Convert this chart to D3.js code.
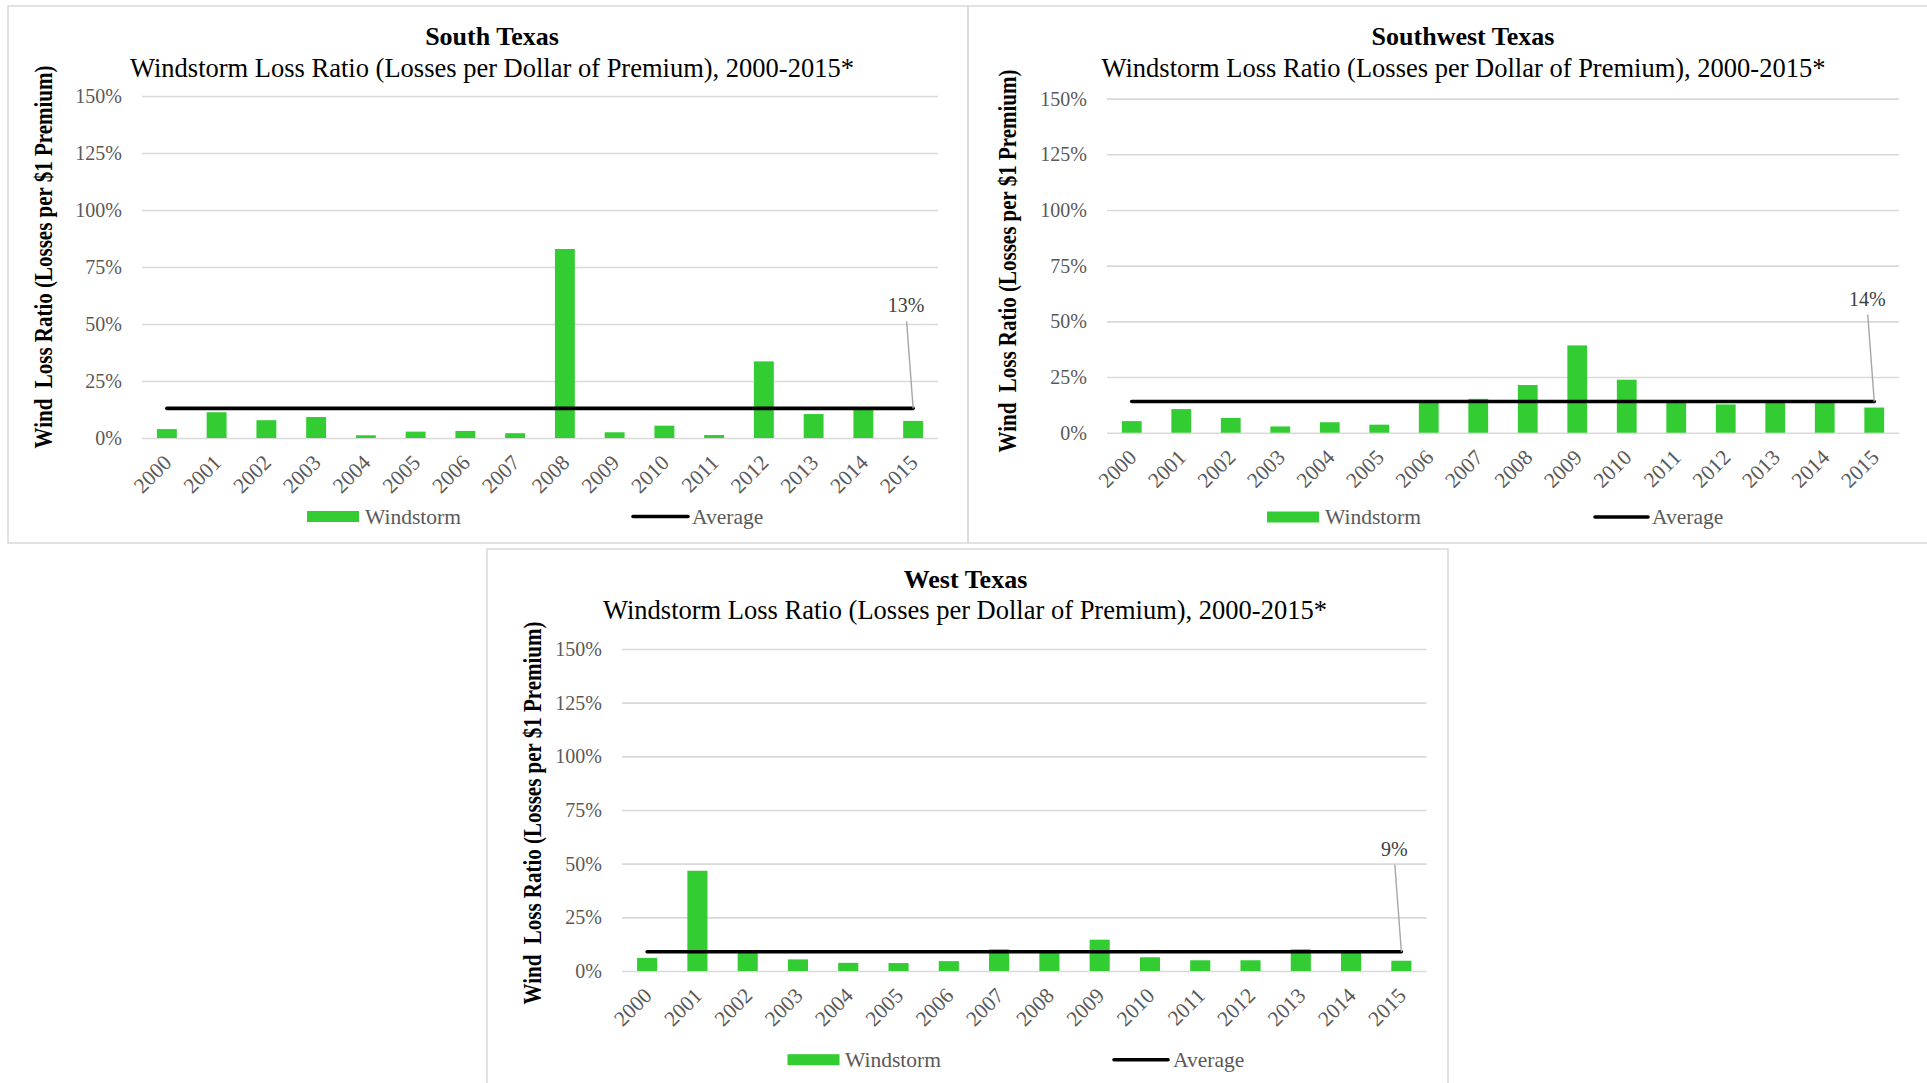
<!DOCTYPE html>
<html><head><meta charset="utf-8">
<script src="https://cdn.jsdelivr.net/npm/d3@7"></script>
<style>
html,body{margin:0;padding:0;background:#fff;overflow:hidden}
svg{display:block}
text{font-family:"Times New Roman","Liberation Serif",serif}
</style></head><body>
<svg id="chart" width="1927" height="1083"></svg>
<script>
// ---------- data ----------
const years = ["2000","2001","2002","2003","2004","2005","2006","2007","2008","2009","2010","2011","2012","2013","2014","2015"];
const southWindstorm     = [3.9, 11.3, 7.8, 9.2, 1.2, 2.8, 3.1, 2.1, 82.9, 2.5, 5.4, 1.3, 33.6, 10.5, 13.2, 7.5];
const southwestWindstorm = [5.2, 10.6, 6.6, 2.8, 4.7, 3.6, 14.3, 15.2, 21.4, 39.2, 23.8, 14.3, 12.7, 14.3, 14.3, 11.3];
const westWindstorm      = [6.1, 46.7, 9.1, 5.4, 3.8, 3.7, 4.6, 10.1, 8.9, 14.6, 6.4, 5.0, 5.0, 10.1, 9.1, 4.8];
const averageValues = [13, 14, 9];
const averageLabels = ["13%", "14%", "9%"];
const regionTitles = ["South Texas", "Southwest Texas", "West Texas"];
const subtitleText = "Windstorm Loss Ratio (Losses per Dollar of Premium), 2000-2015*";
const yTickValues = [0, 25, 50, 75, 100, 125, 150];
const yAxisTitle = "Wind  Loss Ratio (Losses per $1 Premium)";
const legendLabels = ["Windstorm", "Average"];

const seriesByPanel = [southWindstorm, southwestWindstorm, westWindstorm];

// ---------- layout ----------
const layouts = [
  {box:[8,6,960,537], plot:{left:142,right:938,top:96,bottom:438}, title:[492,45], sub:[492,76.5], ylab:[44,257],
   legend:{rect:307,text:365,line:633,lineEnd:688,ltext:692,y:516.5}},
  {box:[968,6,990,537], plot:{left:1107,right:1899,top:98.6,bottom:432.7}, title:[1463,45], sub:[1463.5,76.5], ylab:[1008,261],
   legend:{rect:1267,text:1325,line:1595,lineEnd:1648,ltext:1652,y:517}},
  {box:[487,549,961,560], plot:{left:622,right:1426.5,top:649,bottom:971}, title:[965.5,588], sub:[965,619], ylab:[533,813],
   legend:{rect:787.5,text:845,line:1114,lineEnd:1168,ltext:1173,y:1059.7}}
];

const GREEN = "#33cc33", GRID = "#d9d9d9", GRAYTXT = "#595959";
const svg = d3.select("#chart");

layouts.forEach((L, i) => {
  const g = svg.append("g");
  const values = seriesByPanel[i];
  const data = years.map((y, k) => ({year: y, value: values[k]}));

  // panel border
  g.append("rect").attr("x", L.box[0]).attr("y", L.box[1]).attr("width", L.box[2]).attr("height", L.box[3])
    .attr("fill", "none").attr("stroke", GRID).attr("stroke-width", 1.5);

  const x = d3.scaleBand().domain(years).range([L.plot.left, L.plot.right]).paddingInner(0.6).paddingOuter(0.3);
  const y = d3.scaleLinear().domain([0, 150]).range([L.plot.bottom, L.plot.top]);

  // gridlines + y tick labels
  const yAxis = g.append("g").attr("transform", `translate(${L.plot.left},0)`)
    .call(d3.axisLeft(y).tickValues(yTickValues).tickFormat(d => d + "%")
      .tickSize(-(L.plot.right - L.plot.left)).tickPadding(20));
  yAxis.select(".domain").remove();
  yAxis.selectAll(".tick line").attr("stroke", GRID).attr("stroke-width", 1.6);
  yAxis.selectAll(".tick text").attr("fill", GRAYTXT).style("font-size", "20px")
    .style("font-family", '"Times New Roman","Liberation Serif",serif');

  // x axis labels
  const xAxis = g.append("g").attr("transform", `translate(0,${L.plot.bottom})`)
    .call(d3.axisBottom(x).tickSize(0).tickPadding(0));
  xAxis.select(".domain").remove();
  xAxis.selectAll(".tick text")
    .attr("fill", GRAYTXT).style("font-size", "21.5px")
    .style("font-family", '"Times New Roman","Liberation Serif",serif')
    .attr("text-anchor", "end").attr("dy", null).attr("y", null)
    .attr("transform", "translate(6,26) rotate(-45)");

  // bars
  g.append("g").selectAll("rect").data(data).join("rect")
    .attr("x", d => x(d.year)).attr("width", x.bandwidth())
    .attr("y", d => y(d.value)).attr("height", d => y(0) - y(d.value))
    .attr("fill", GREEN);

  // average line
  const avg = averageValues[i];
  const avgData = years.map(yr => ({year: yr, value: avg}));
  const line = d3.line().x(d => x(d.year) + x.bandwidth() / 2).y(d => y(d.value));
  g.append("path").datum(avgData).attr("d", line)
    .attr("fill", "none").attr("stroke", "#000").attr("stroke-width", 3.6).attr("stroke-linecap", "round");

  // average label with leader
  const lx = x(years[years.length - 1]) + x.bandwidth() / 2, ly = y(avg);
  g.append("line").attr("x1", lx - 6.5).attr("y1", ly - 87).attr("x2", lx).attr("y2", ly)
    .attr("stroke", "#a6a6a6").attr("stroke-width", 1.4);
  g.append("text").attr("x", lx - 7).attr("y", ly - 96).attr("text-anchor", "middle")
    .attr("fill", "#404040").style("font-size", "20px").text(averageLabels[i]);

  // titles
  g.append("text").attr("x", L.title[0]).attr("y", L.title[1]).attr("text-anchor", "middle")
    .style("font-size", "26px").style("font-weight", "bold").attr("fill", "#000").text(regionTitles[i]);
  g.append("text").attr("x", L.sub[0]).attr("y", L.sub[1]).attr("text-anchor", "middle")
    .style("font-size", "26.5px").attr("fill", "#000").text(subtitleText);

  // y axis title (slightly widened glyphs as in the reference)
  g.append("text").attr("transform", `translate(${L.ylab[0]},${L.ylab[1]}) scale(1.15,1) rotate(-90)`)
    .attr("text-anchor", "middle").attr("dominant-baseline", "central")
    .style("font-size", "21px").style("font-weight", "bold").style("white-space", "pre")
    .attr("fill", "#000").text(yAxisTitle);

  // legend
  const lg = L.legend;
  g.append("rect").attr("x", lg.rect).attr("y", lg.y - 5.5).attr("width", 52).attr("height", 11).attr("fill", GREEN);
  g.append("text").attr("x", lg.text).attr("y", lg.y + 7).attr("fill", GRAYTXT).style("font-size", "21.5px").text(legendLabels[0]);
  g.append("line").attr("x1", lg.line).attr("x2", lg.lineEnd).attr("y1", lg.y).attr("y2", lg.y)
    .attr("stroke", "#000").attr("stroke-width", 3.6).attr("stroke-linecap", "round");
  g.append("text").attr("x", lg.ltext).attr("y", lg.y + 7).attr("fill", GRAYTXT).style("font-size", "21.5px").text(legendLabels[1]);
});
</script>
</body></html>
